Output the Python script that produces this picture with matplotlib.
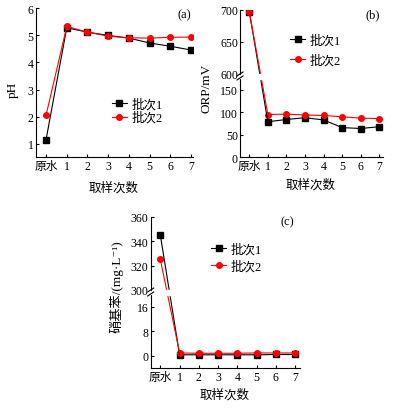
import numpy as np
import matplotlib
matplotlib.use('Agg')
from matplotlib import pyplot as plt
from matplotlib.patches import ConnectionPatch, Rectangle

plt.rcParams['font.family'] = ['Liberation Serif', 'Noto Sans CJK SC', 'DejaVu Sans']
plt.rcParams['font.size'] = 8.5
plt.rcParams['axes.linewidth'] = 0.8
plt.rcParams['xtick.direction'] = 'in'
plt.rcParams['ytick.direction'] = 'in'
plt.rcParams['xtick.major.size'] = 2.5
plt.rcParams['ytick.major.size'] = 2.5
plt.rcParams['xtick.major.width'] = 0.8
plt.rcParams['ytick.major.width'] = 0.8
plt.rcParams['xtick.major.pad'] = 2
plt.rcParams['ytick.major.pad'] = 1.5

# datos
muestras = ['原水', '1', '2', '3', '4', '5', '6', '7']
ph_lote1 = [1.15, 5.28, 5.12, 5.00, 4.90, 4.72, 4.60, 4.46]
ph_lote2 = [2.05, 5.33, 5.12, 4.97, 4.91, 4.90, 4.93, 4.94]
orp_lote1 = [697, 79, 84, 88, 83, 66, 64, 68]
orp_lote2 = [697, 95, 96, 94, 93, 90, 87, 86]
nb_lote1 = [345, 0.3, 0.3, 0.3, 0.3, 0.3, 0.4, 0.4]
nb_lote2 = [325, 0.9, 0.8, 0.8, 0.8, 0.9, 0.9, 0.9]
etiquetas = ['批次1', '批次2']

W, H = 398, 410
x = np.arange(len(muestras))

fig = plt.figure(figsize=(W/100, H/100), dpi=100)

def caja(l, t, r, b):
    return [l/W, 1 - b/H, (r - l)/W, (b - t)/H]

def estilo(ax):
    ax.spines['top'].set_visible(False)
    ax.spines['right'].set_visible(False)

def leyenda(ax, cx, cy, esp):
    ax.legend(frameon=False, loc='center left', bbox_to_anchor=(cx/W, 1 - cy/H),
              bbox_transform=fig.transFigure, borderpad=0, borderaxespad=0,
              handlelength=1.2, handletextpad=0.4, labelspacing=esp, fontsize=9)

def roto(ax_sup, ax_inf, y1, y2):
    # eje partido: linea del 原水 al punto 1 y marcas //
    for y, c, m in [(y1, 'black', 's'), (y2, 'red', 'o')]:
        ax_sup.plot(x[:1], y[:1], color=c, marker=m, ms=4, lw=0.8)
        cp = ConnectionPatch(xyA=(x[0], y[0]), coordsA=ax_sup.transData,
                             xyB=(x[1], y[1]), coordsB=ax_inf.transData,
                             color=c, lw=0.8, zorder=1)
        fig.add_artist(cp)
    p1 = ax_sup.get_position()
    p2 = ax_inf.get_position()
    fig.add_artist(Rectangle((p1.x0 + 1/W, p2.y1), p1.width, p1.y0 - p2.y1,
                             transform=fig.transFigure, color='white', zorder=3))
    for dy in [0, 4]:
        yy = p1.y0 - 4/H + dy/H
        fig.add_artist(plt.Line2D([p1.x0 - 3/W, p1.x0 + 3/W], [yy - 2/H, yy + 2/H],
                                  transform=fig.transFigure, color='black', lw=0.8, zorder=4))
    ax_sup.spines['bottom'].set_visible(False)
    ax_sup.tick_params(axis='x', bottom=False, labelbottom=False)

# (a) pH
ax = fig.add_axes(caja(35.7, 9.3, 193, 158.3))
estilo(ax)
ax.plot(x, ph_lote1, color='black', marker='s', ms=4, lw=0.8, label=etiquetas[0])
ax.plot(x, ph_lote2, color='red', marker='o', ms=4, lw=0.8, label=etiquetas[1])
ax.set_xlim(-0.5, 7.1)
ax.set_ylim(0.5, 6)
ax.set_yticks([1, 2, 3, 4, 5, 6])
ax.set_xticks(x)
ax.set_xticklabels(muestras)
leyenda(ax, 111.5, 112, 0.1)
fig.text(184/W, 1 - 15/H, '(a)', ha='center', va='center', fontsize=9)
fig.text(114/W, 1 - 188/H, '取样次数', ha='center', va='center', fontsize=9)
fig.text(13/W, 1 - 90/H, 'pH', ha='center', va='center', rotation=90, fontsize=9.5)

# (b) ORP
bs = fig.add_axes(caja(240, 10.7, 383, 75))
bi = fig.add_axes(caja(240, 80, 383, 158.3))
for a in (bs, bi):
    estilo(a)
    a.set_xlim(-0.5, 7.2)
bs.set_ylim(600, 700)
bs.set_yticks([600, 650, 700])
bi.set_ylim(0, 174)
bi.set_yticks([0, 50, 100, 150])
bi.plot(x[1:], orp_lote1[1:], color='black', marker='s', ms=4, lw=0.8, label=etiquetas[0])
bi.plot(x[1:], orp_lote2[1:], color='red', marker='o', ms=4, lw=0.8, label=etiquetas[1])
bi.set_xticks(x)
bi.set_xticklabels(muestras)
roto(bs, bi, orp_lote1, orp_lote2)
leyenda(bi, 290, 51, 0.6)
fig.text(373/W, 1 - 15/H, '(b)', ha='center', va='center', fontsize=9)
fig.text(311/W, 1 - 185/H, '取样次数', ha='center', va='center', fontsize=9)
fig.text(207/W, 1 - 88/H, 'ORP/mV', ha='center', va='center', rotation=90, fontsize=9.5)

# (c) nitrobenceno
cs = fig.add_axes(caja(150.7, 217.7, 300, 291))
ci = fig.add_axes(caja(150.7, 296, 300, 369.3))
for a in (cs, ci):
    estilo(a)
    a.set_xlim(-0.5, 7.25)
cs.set_ylim(300, 360)
cs.set_yticks([300, 320, 340, 360])
ci.set_ylim(-4.1, 19.8)
ci.set_yticks([0, 8, 16])
ci.plot(x[1:], nb_lote1[1:], color='black', marker='s', ms=4, lw=0.8, label=etiquetas[0])
ci.plot(x[1:], nb_lote2[1:], color='red', marker='o', ms=4, lw=0.8, label=etiquetas[1])
ci.set_xticks(x)
ci.set_xticklabels(muestras)
roto(cs, ci, nb_lote1, nb_lote2)
leyenda(ci, 211, 259, 0.35)
fig.text(287/W, 1 - 222/H, '(c)', ha='center', va='center', fontsize=9)
fig.text(225/W, 1 - 395/H, '取样次数', ha='center', va='center', fontsize=9)
fig.text(116/W, 1 - 287/H, '硝基苯/(mg·L⁻¹)', ha='center', va='center', rotation=90, fontsize=9.5)

fig.savefig('out.png', dpi=100)
